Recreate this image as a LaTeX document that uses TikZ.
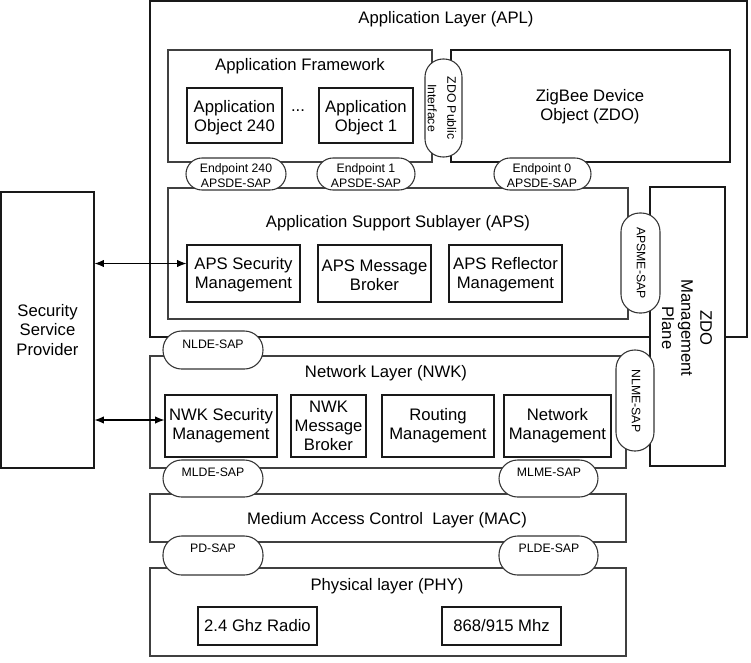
\documentclass[tikz,border=0pt]{standalone}
\usepackage{fontspec}
\setmainfont{Liberation Sans}
\usetikzlibrary{fit,arrows.meta,calc}
\begin{document}
\begin{tikzpicture}[x=0.75pt,y=-0.75pt,
  every node/.style={font=\fontsize{12.5}{14.3}\selectfont, align=center},
  box/.style={draw=black!90, line width=0.8pt, fill=white, inner sep=0pt},
  layer/.style={draw=black!75, line width=0.8pt, fill=white, inner sep=0pt},
  pill/.style={draw=black!80, line width=0.8pt, fill=white, inner sep=0pt, rounded corners=#1},
  small/.style={font=\fontsize{9.2}{11.2}\selectfont},
  arr/.style={{Latex[length=7pt,width=5.5pt]}-{Latex[length=7pt,width=5.5pt]}, line width=0.8pt}
]
\useasboundingbox (0,0) rectangle (751,662);

% Application layer
\node[box, fit={(150,1)(747,337)}] (apl) {};
\node (aplt) at (446,19) {Application Layer (APL)};

% Security service provider
\node[box, fit={(1,192)(94,468)}] (ssp) {};
\node (sspt) at (ssp.center) {Security\\Service\\Provider};

% Application framework
\node[layer, fit={(168,50)(432,162)}] (fw) {};
\node (fwt) at (300,66) {Application Framework};
\node[box, fit={(187,88)(282,143)}] (ao240) {};
\node (ao240t) at ([yshift=-1.5pt]ao240.center) {Application\\Object 240};
\node (dots) at (298,111) {...};
\node[box, fit={(319,88)(413,143)}] (ao1) {};
\node (ao1t) at ([yshift=-1.5pt]ao1.center) {Application\\Object 1};
\node[box, fit={(451,50)(730,162)}] (zdo) {};
\node (zdot) at (590,107) {ZigBee Device\\Object (ZDO)};
\node[pill=13.5pt, fit={(425,59)(462,157)}] (zpi) {};
\node[small, rotate=-90] (zpit) at (442,108) {ZDO Public\\[3.5pt]Interface};

% APS
\node[layer, fit={(168,188)(628,319)}] (aps) {};
\node (apst) at (398,223) {Application Support Sublayer (APS)};
\node[box, fit={(187,245)(300,302)}] (apssec) {};
\node (apssect) at ([yshift=-1pt]apssec.center) {APS Security\\Management};
\node[box, fit={(318,245)(431,302)}] (apsmb) {};
\node (apsmbt) at ([yshift=-1pt]apsmb.center) {APS Message\\Broker};
\node[box, fit={(449,245)(562,302)}] (apsrm) {};
\node (apsrmt) at ([yshift=-1pt]apsrm.center) {APS Reflector\\Management};

% ZDO management plane
\node[box, fit={(650,187)(725,466)}] (zmp) {};
\node[rotate=-90] (zmpt) at (687,328) {ZDO\\Management\\Plane};

% NWK
\node[layer, fit={(150,356)(626,468)}] (nwk) {};
\node (nwkt) at (386,373) {Network Layer (NWK)};
\node[box, fit={(165,395)(277,457)}] (nwksec) {};
\node (nwksect) at (nwksec.center) {NWK Security\\Management};
\node[box, fit={(291,395)(366,457)}] (nwkmb) {};
\node (nwkmbt) at (nwkmb.center) {NWK\\Message\\Broker};
\node[box, fit={(382,395)(494,457)}] (nwkrm) {};
\node (nwkrmt) at (nwkrm.center) {Routing\\Management};
\node[box, fit={(504,395)(611,457)}] (nwknm) {};
\node (nwknmt) at (nwknm.center) {Network\\Management};

% MAC and PHY
\node[layer, fit={(150,494)(626,542)}] (mac) {};
\node (mact) at (387,520) {Medium Access Control\ \ Layer (MAC)};
\node[layer, fit={(150,568)(626,656)}] (phy) {};
\node (phyt) at (387,586) {Physical layer (PHY)};
\node[box, fit={(198,607)(317,645)}] (r24) {};
\node (r24t) at (r24.center) {2.4 Ghz Radio};
\node[box, fit={(442,607)(561,645)}] (r868) {};
\node (r868t) at (r868.center) {868/915 Mhz};

% SAP pills
\node[pill=12pt, fit={(186,158)(286,190)}] (ep240) {};
\node[small] (ep240t) at (236,176) {Endpoint 240\\APSDE-SAP};
\node[pill=12pt, fit={(317,158)(415,190)}] (ep1) {};
\node[small] (ep1t) at (366,176) {Endpoint 1\\APSDE-SAP};
\node[pill=12pt, fit={(494,158)(591,190)}] (ep0) {};
\node[small] (ep0t) at (542,176) {Endpoint 0\\APSDE-SAP};

\node[pill=14pt, fit={(163,331)(263,369)}] (nlde) {};
\node[small] (nldet) at (213,344) {NLDE-SAP};
\node[pill=14pt, fit={(163,460)(263,497)}] (mlde) {};
\node[small] (mldet) at (213,472) {MLDE-SAP};
\node[pill=14pt, fit={(499,460)(598,497)}] (mlme) {};
\node[small] (mlmet) at (549,472) {MLME-SAP};
\node[pill=14pt, fit={(163,536)(263,575)}] (pd) {};
\node[small] (pdt) at (213,548) {PD-SAP};
\node[pill=14pt, fit={(499,536)(598,575)}] (plde) {};
\node[small] (pldet) at (549,548) {PLDE-SAP};

\node[pill=14pt, fit={(621,213)(660,313)}] (apsme) {};
\node[small, rotate=-90] (apsmet) at (641,263) {APSME-SAP};
\node[pill=14pt, fit={(616,350)(654,451)}] (nlme) {};
\node[small, rotate=-90] (nlmet) at (636,401) {NLME-SAP};

% Arrows
\coordinate (a1) at ([yshift=7.5pt]apssec.west);
\coordinate (a2) at ([yshift=4.5pt]nwksec.west);
\draw[arr] (ssp.east |- a1) -- (a1);
\draw[arr] (ssp.east |- a2) -- (a2);
\end{tikzpicture}
\end{document}
